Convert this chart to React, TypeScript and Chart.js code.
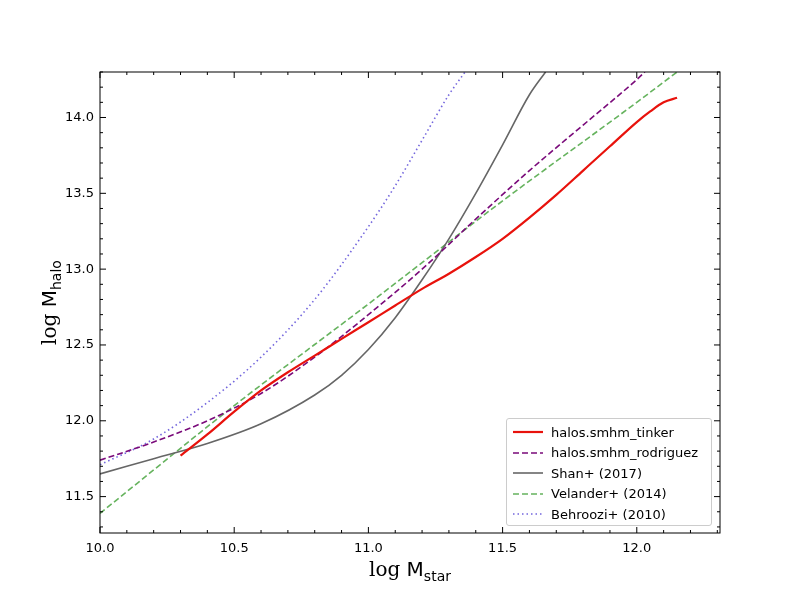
import { useEffect, useRef } from "react";
import { Chart, registerables } from "chart.js";

Chart.register(...registerables);

const tinkerX = [10.3, 10.4, 10.5, 10.6, 10.7, 10.8, 10.9, 11.0, 11.1, 11.2, 11.3, 11.4, 11.5, 11.6, 11.7, 11.8, 11.9, 12.0, 12.05, 12.1, 12.15];
const tinkerY = [11.77, 11.91, 12.06, 12.2, 12.32, 12.43, 12.54, 12.65, 12.76, 12.87, 12.97, 13.08, 13.2, 13.34, 13.49, 13.65, 13.81, 13.97, 14.04, 14.1, 14.13];
const rodX = [10.0, 10.2, 10.4, 10.6, 10.8, 11.0, 11.2, 11.4, 11.6, 11.8, 12.0, 12.03];
const rodY = [11.74, 11.86, 12.0, 12.18, 12.42, 12.7, 13.0, 13.33, 13.65, 13.95, 14.25, 14.3];
const shanX = [10.0, 10.2, 10.4, 10.6, 10.8, 10.9, 11.0, 11.1, 11.2, 11.3, 11.4, 11.5, 11.6, 11.66];
const shanY = [11.65, 11.75, 11.85, 11.98, 12.17, 12.3, 12.47, 12.68, 12.93, 13.2, 13.5, 13.82, 14.15, 14.3];
const velX = [10.0, 10.5, 11.0, 11.5, 12.0, 12.15];
const velY = [11.39, 12.1, 12.77, 13.45, 14.1, 14.3];
const behX = [10.0, 10.2, 10.4, 10.6, 10.8, 11.0, 11.1, 11.2, 11.3, 11.36];
const behY = [11.71, 11.88, 12.12, 12.42, 12.8, 13.28, 13.55, 13.85, 14.15, 14.3];

const xTicks = [10.0, 10.5, 11.0, 11.5, 12.0];
const yTicks = [11.5, 12.0, 12.5, 13.0, 13.5, 14.0];

const series = [
  { label: "halos.smhm_tinker", xs: tinkerX, ys: tinkerY, color: "#e8120c", width: 2.2, dash: [] as number[] },
  { label: "halos.smhm_rodriguez", xs: rodX, ys: rodY, color: "#7a0a7a", width: 1.6, dash: [6, 3] },
  { label: "Shan+ (2017)", xs: shanX, ys: shanY, color: "#666666", width: 1.6, dash: [] as number[] },
  { label: "Velander+ (2014)", xs: velX, ys: velY, color: "#66b35e", width: 1.6, dash: [6, 3] },
  { label: "Behroozi+ (2010)", xs: behX, ys: behY, color: "#7366dd", width: 1.6, dash: [1.5, 3] },
];

const font = "DejaVu Sans";

const frame = {
  id: "frame",
  afterDraw(chart: any) {
    const { ctx, chartArea: a, scales } = chart;
    const x = scales.x, y = scales.y;
    ctx.save();
    ctx.strokeStyle = "#000";
    ctx.lineWidth = 1;
    ctx.strokeRect(a.left, a.top, a.right - a.left, a.bottom - a.top);
    ctx.beginPath();
    for (let v = 10.0; v <= 12.3; v += 0.1) {
      const p = x.getPixelForValue(v);
      const major = Math.abs(v * 2 - Math.round(v * 2)) < 1e-6;
      const l = major ? 6 : 3;
      ctx.moveTo(p, a.bottom); ctx.lineTo(p, a.bottom - l);
      ctx.moveTo(p, a.top); ctx.lineTo(p, a.top + l);
    }
    for (let v = 11.3; v <= 14.3; v += 0.1) {
      const p = y.getPixelForValue(v);
      const major = Math.abs(v * 2 - Math.round(v * 2)) < 1e-6;
      const l = major ? 6 : 3;
      ctx.moveTo(a.left, p); ctx.lineTo(a.left + l, p);
      ctx.moveTo(a.right, p); ctx.lineTo(a.right - l, p);
    }
    ctx.stroke();
    // axis titles
    ctx.fillStyle = "#000";
    ctx.textBaseline = "alphabetic";
    const drawTitle = (cx: number, cy: number) => {
      ctx.font = `20px "DejaVu Serif"`;
      const w1 = ctx.measureText("log ").width;
      ctx.font = `20px ${font}`;
      const w2 = ctx.measureText("M").width;
      return { w1, w2 };
    };
    // x title
    {
      const { w1, w2 } = drawTitle(0, 0);
      ctx.font = `14px ${font}`;
      const w3 = ctx.measureText("star").width;
      let sx = (a.left + a.right) / 2 - (w1 + w2 + w3) / 2;
      const by = 576;
      ctx.font = `20px "DejaVu Serif"`; ctx.fillText("log ", sx, by);
      ctx.font = `20px ${font}`; ctx.fillText("M", sx + w1, by);
      ctx.font = `14px ${font}`; ctx.fillText("star", sx + w1 + w2, by + 5);
    }
    {
      const { w1, w2 } = drawTitle(0, 0);
      ctx.font = `14px ${font}`;
      const w3 = ctx.measureText("halo").width;
      ctx.translate(56, (a.top + a.bottom) / 2);
      ctx.rotate(-Math.PI / 2);
      const sx = -(w1 + w2 + w3) / 2;
      ctx.font = `20px "DejaVu Serif"`; ctx.fillText("log ", sx, 0);
      ctx.font = `20px ${font}`; ctx.fillText("M", sx + w1, 0);
      ctx.font = `14px ${font}`; ctx.fillText("halo", sx + w1 + w2, 5);
    }
    ctx.restore();
  },
};

export default function App() {
  const canvasRef = useRef<HTMLCanvasElement>(null);

  useEffect(() => {
    if (!canvasRef.current) return;
    const chart = new Chart(canvasRef.current, {
      type: "scatter",
      data: {
        datasets: series.map((s) => ({
          label: s.label,
          data: s.xs.map((x, i) => ({ x, y: s.ys[i] })),
          showLine: true,
          borderColor: s.color,
          backgroundColor: s.color,
          borderWidth: s.width,
          borderDash: s.dash,
          pointRadius: 0,
          tension: 0.4,
          cubicInterpolationMode: "monotone" as const,
        })),
      },
      options: {
        animation: false,
        responsive: false,
        layout: { padding: { top: 72, right: 80, left: 0, bottom: 0 } },
        plugins: { legend: { display: false }, tooltip: { enabled: false } },
        scales: {
          x: {
            type: "linear",
            min: 10.0,
            max: 12.31,
            afterBuildTicks: (s: any) => { s.ticks = xTicks.map((v) => ({ value: v })); },
            afterFit: (s: any) => { s.height = 67; },
            grid: { display: false, drawTicks: false },
            border: { display: false },
            ticks: { font: { family: font, size: 13 }, color: "#000", padding: 8, callback: (v: any) => Number(v).toFixed(1), maxRotation: 0 },
          },
          y: {
            type: "linear",
            min: 11.26,
            max: 14.3,
            afterBuildTicks: (s: any) => { s.ticks = yTicks.map((v) => ({ value: v })); },
            afterFit: (s: any) => { s.width = 100; },
            grid: { display: false, drawTicks: false },
            border: { display: false },
            ticks: { font: { family: font, size: 13 }, color: "#000", padding: 6, callback: (v: any) => Number(v).toFixed(1) },
          },
        },
      },
      plugins: [frame],
    });
    return () => chart.destroy();
  }, []);

  return (
    <div style={{ position: "fixed", left: 0, top: 0, width: 800, height: 600, background: "#fff" }}>
      <canvas ref={canvasRef} width={800} height={600} />
      <div
        style={{
          position: "absolute", left: 506, top: 418, width: 206, height: 108,
          border: "1px solid #ccc", borderRadius: 3, background: "rgba(255,255,255,0.8)",
          fontFamily: font, fontSize: 13, padding: "3px 0", boxSizing: "border-box",
        }}
      >
        {series.map((s) => (
          <div key={s.label} style={{ display: "flex", alignItems: "center", height: 20.5 }}>
            <svg width={44} height={10} style={{ marginLeft: 4, marginRight: 6 }}>
              <line x1={2} y1={5} x2={32} y2={5} stroke={s.color} strokeWidth={s.width} strokeDasharray={s.dash.join(" ")} />
            </svg>
            <span style={{ marginLeft: -10 }}>{s.label}</span>
          </div>
        ))}
      </div>
    </div>
  );
}
